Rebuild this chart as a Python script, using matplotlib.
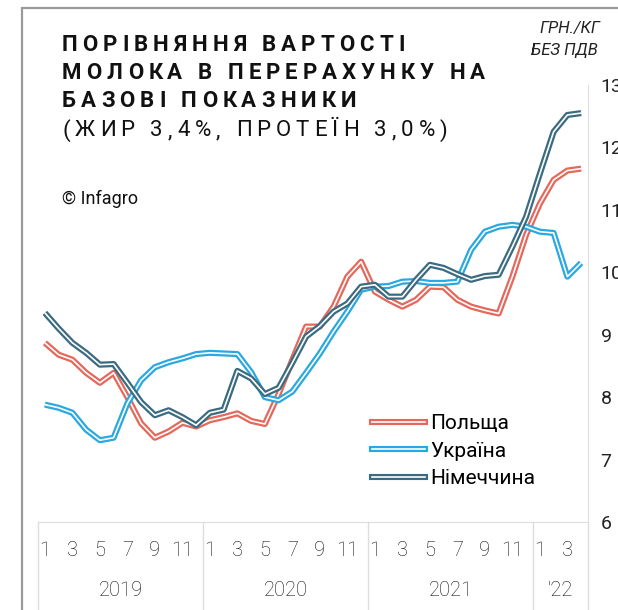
import matplotlib
matplotlib.use("Agg")
import matplotlib.pyplot as plt
import matplotlib.transforms as mtransforms
from matplotlib.lines import Line2D
from matplotlib.patches import Rectangle

plt.rcParams['font.family'] = ['Roboto', 'DejaVu Sans']

# Дані: помісячно, січень 2019 - квітень 2022
months = list(range(1, 13)) * 3 + [1, 2, 3, 4]
years = ['2019', '2020', '2021', "'22"]

poland = [8.87, 8.68, 8.60, 8.39, 8.23, 8.39, 8.00, 7.58, 7.35, 7.45, 7.59, 7.53,
          7.63, 7.68, 7.74, 7.62, 7.57, 8.05, 8.60, 9.13, 9.13, 9.45, 9.93, 10.17,
          9.69, 9.56, 9.45, 9.56, 9.77, 9.76, 9.56, 9.45, 9.39, 9.34, 9.93, 10.60,
          11.10, 11.48, 11.63, 11.66]
ukraine = [7.88, 7.83, 7.75, 7.48, 7.31, 7.35, 7.90, 8.27, 8.48, 8.56, 8.62, 8.69,
           8.71, 8.70, 8.69, 8.40, 8.00, 7.95, 8.09, 8.39, 8.70, 9.05, 9.37, 9.72,
           9.77, 9.78, 9.85, 9.86, 9.83, 9.83, 9.85, 10.36, 10.65, 10.73, 10.76, 10.73,
           10.65, 10.63, 9.93, 10.15]
germany = [9.35, 9.10, 8.87, 8.71, 8.52, 8.53, 8.23, 7.92, 7.71, 7.79, 7.68, 7.55,
           7.75, 7.80, 8.42, 8.30, 8.05, 8.15, 8.55, 8.97, 9.14, 9.37, 9.50, 9.77,
           9.80, 9.61, 9.61, 9.88, 10.12, 10.07, 9.97, 9.88, 9.94, 9.96, 10.41, 10.89,
           11.58, 12.25, 12.52, 12.55]

series = [('Польща', poland, '#E4685B'),
          ('Україна', ukraine, '#2AA8E0'),
          ('Німеччина', germany, '#3B6B80')]

W, H = 618, 610
fig = plt.figure(figsize=(W / 100, H / 100), dpi=100)

def fx(px):
    return px / W

def fy(py):
    return 1 - py / H

# рамка
fig.patches.append(Rectangle((fx(22), fy(640)), 1.0, fy(8) - fy(640), transform=fig.transFigure,
                             fill=False, edgecolor='#9a9a9a', linewidth=1.6))

ax = fig.add_axes([fx(38), fy(522), fx(588) - fx(38), fy(85) - fy(522)])
x = list(range(len(poland)))

handles = []
for name, vals, col in series:
    ax.plot(x, vals, color=col, lw=4.4, solid_capstyle='butt', solid_joinstyle='round')
    ax.plot(x, vals, color='white', lw=1.2, solid_capstyle='butt', solid_joinstyle='round')
    handles.append((Line2D([], [], color=col, lw=4.4), Line2D([], [], color='white', lw=1.2)))

ax.set_xlim(-0.5, len(x) - 0.5)
ax.set_ylim(6, 13)
ax.yaxis.tick_right()
ax.set_yticks(range(6, 14))
ax.tick_params(axis='y', length=0, pad=9, labelsize=14, labelcolor='#222222')
ax.set_xticks([])
for s in ['top', 'left']:
    ax.spines[s].set_visible(False)
ax.spines['right'].set_color('#dddddd')
ax.spines['bottom'].set_color('#dddddd')

# підписи місяців і років
tr = mtransforms.blended_transform_factory(ax.transData, fig.transFigure)
for i, m in enumerate(months):
    if m % 2 == 1:
        ax.text(i, fy(551), str(m), transform=tr, ha='center', va='center',
                fontsize=14.5, fontweight='light', color='#111111')
starts = [-0.5, 11.5, 23.5, 35.5, len(x) - 0.5]
for k, yl in enumerate(years):
    ax.text((starts[k] + starts[k + 1]) / 2, fy(591), yl, transform=tr, ha='center',
            va='center', fontsize=14.5, fontweight='light', color='#111111')
for s in starts:
    ax.plot([s, s], [fy(522), fy(615)], transform=tr, color='#dddddd', lw=1, clip_on=False)

ax.legend(handles, [s[0] for s in series], loc='upper left',
          bbox_to_anchor=(fx(372), fy(414)), bbox_transform=fig.transFigure,
          frameon=False, fontsize=15, handlelength=2.55, handletextpad=0.25,
          labelspacing=0.42, borderpad=0, borderaxespad=0)

# заголовок з розрідженими літерами
renderer = fig.canvas.get_renderer()

def spaced(px, py, s, spacing, **kw):
    for k, ch in enumerate(s):
        w = 0
        if k > 0:
            t = fig.text(0, 0, s[:k], **kw)
            w = t.get_window_extent(renderer).width
            t.remove()
        fig.text(fx(px + w + k * spacing), fy(py), ch, va='center', ha='left', **kw)

spaced(62, 45, 'ПОРІВНЯННЯ ВАРТОСТІ', 5.0, fontsize=16, fontweight='bold', color='#111111')
spaced(62, 73, 'МОЛОКА В ПЕРЕРАХУНКУ НА', 5.0, fontsize=16, fontweight='bold', color='#111111')
spaced(62, 101, 'БАЗОВІ ПОКАЗНИКИ', 5.0, fontsize=16, fontweight='bold', color='#111111')
spaced(62, 131, '(ЖИР 3,4%, ПРОТЕЇН 3,0%)', 5.0, fontsize=16, color='#111111')

fig.text(fx(62), fy(199), '© Infagro', fontsize=13, va='center', ha='left', color='#111111')
fig.text(fx(600), fy(29), 'ГРН./КГ', fontsize=12, style='italic', va='center', ha='right',
         color='#222222')
fig.text(fx(598), fy(50), 'БЕЗ ПДВ', fontsize=12, style='italic', va='center', ha='right',
         color='#222222')

fig.savefig('out.png', dpi=100)
